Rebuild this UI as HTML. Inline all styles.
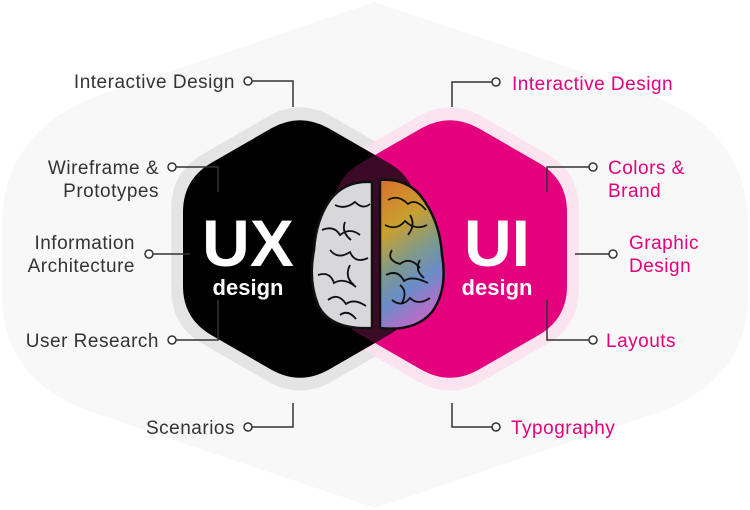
<!DOCTYPE html>
<html><head><meta charset="utf-8"><style>
html,body{margin:0;padding:0;background:#fff;}
svg{display:block;font-family:"Liberation Sans",sans-serif;}
</style></head><body>
<svg width="750" height="510" viewBox="0 0 750 510" xmlns="http://www.w3.org/2000/svg">
<defs>
<linearGradient id="rb" x1="0" y1="0" x2="0.3" y2="1">
<stop offset="0" stop-color="#d9702a"/><stop offset="0.35" stop-color="#c9a030"/><stop offset="0.6" stop-color="#7f9a8a"/><stop offset="0.8" stop-color="#6a8cc8"/><stop offset="1" stop-color="#b070c8"/>
</linearGradient>
<path id="hx" d="M271 128.5 Q300 112 329 128.5 L388 162.5 Q417 179 417 212 L417 286 Q417 319 388 335.5 L329 369.5 Q300 386 271 369.5 L212 335.5 Q183 319 183 286 L183 212 Q183 179 212 162.5 Z"/>
<clipPath id="uxc"><use href="#hx"/></clipPath>
</defs>
<path d="M375 2 L650 95 Q745 130 748 220 L748 300 Q745 385 650 415 L375 508 L100 415 Q5 385 2 300 L2 220 Q5 130 100 95 Z" fill="#f8f8f8"/>
<!-- halos -->
<use href="#hx" fill="#e4e4e4" transform="translate(300 249) scale(1.1) translate(-300 -249)"/>
<use href="#hx" fill="#fbe0ed" fill-opacity="0.9" transform="translate(450 249) scale(1.1) translate(-300 -249)"/>
<!-- hexes -->
<use href="#hx" fill="#000"/>
<use href="#hx" fill="#e5007d" transform="translate(150 0)"/>
<g clip-path="url(#uxc)"><use href="#hx" fill="#3b0a26" transform="translate(150 0)"/></g>
<!-- brain -->
<path d="M372 182 Q345 180 330 200 Q316 220 314 250 Q308 280 318 305 Q330 330 372 328 Z" fill="#d8d8da" stroke="#111" stroke-width="2.5"/>
<path d="M380 180 Q405 178 420 195 Q440 220 442 255 Q448 290 432 312 Q415 332 380 328 Z" fill="url(#rb)" stroke="#111" stroke-width="2.5"/>
<g fill="none" stroke="#111" stroke-width="1.8">
<path d="M335 205 q10 5 20 -3 q8 8 15 2 M322 230 q12 -5 18 5 q10 -8 20 0 M330 250 q8 10 20 2 q5 12 18 6 M318 275 q12 -4 16 8 q10 -6 22 4 M328 300 q10 -8 18 4 q8 -6 20 2 M345 222 q-4 10 6 18 M350 265 q-6 12 4 20 M340 315 q8 -6 16 4"/>
<path d="M388 200 q10 -6 20 4 q8 -6 18 6 M385 225 q12 6 20 -4 q10 10 22 4 M392 250 q-6 10 8 14 q10 -8 20 4 M386 275 q12 -6 18 6 q8 -6 24 2 M392 300 q10 8 18 -2 q8 8 20 0 M410 215 q6 10 -2 20 M400 285 q8 6 2 18 M420 260 q-6 10 4 18"/>
</g>
<!-- titles -->
<g fill="#fff" font-weight="bold" text-anchor="middle">
<text x="248" y="266" font-size="66">UX</text>
<text x="248" y="295" font-size="22">design</text>
<text x="497" y="266" font-size="66">UI</text>
<text x="497" y="295" font-size="22">design</text>
</g>
<!-- connectors -->
<g fill="none" stroke="#333" stroke-width="1.5">
<path d="M252 81 H293 V107"/><path d="M176 167 H218 V192"/><path d="M153 254 H190"/><path d="M176 340 H218 V300"/><path d="M252 427 H293 V403"/>
<path d="M492 82 H452 V107"/><path d="M589 167 H547 V192"/><path d="M609 254 H575"/><path d="M589 340 H547 V300"/><path d="M492 427 H452 V403"/>
</g>
<g fill="#fff" stroke="#333" stroke-width="1.5">
<circle cx="248" cy="81" r="4"/><circle cx="172" cy="167" r="4"/><circle cx="149" cy="254" r="4"/><circle cx="172" cy="340" r="4"/><circle cx="248" cy="427" r="4"/>
<circle cx="496" cy="82" r="4"/><circle cx="593" cy="167" r="4"/><circle cx="613" cy="254" r="4"/><circle cx="593" cy="340" r="4"/><circle cx="496" cy="427" r="4"/>
</g>
<g font-size="19" letter-spacing="0.5" fill="#333" text-anchor="end">
<text x="235" y="88">Interactive Design</text>
<text x="159" y="174">Wireframe &amp;</text><text x="159" y="197">Prototypes</text>
<text x="135" y="249">Information</text><text x="135" y="272">Architecture</text>
<text x="159" y="347">User Research</text>
<text x="235" y="434">Scenarios</text>
</g>
<g font-size="19" letter-spacing="0.5" fill="#e5007d">
<text x="512" y="90">Interactive Design</text>
<text x="608" y="174">Colors &amp;</text><text x="608" y="197">Brand</text>
<text x="629" y="249">Graphic</text><text x="629" y="272">Design</text>
<text x="606" y="347">Layouts</text>
<text x="511" y="434">Typography</text>
</g>
</svg>
</body></html>
